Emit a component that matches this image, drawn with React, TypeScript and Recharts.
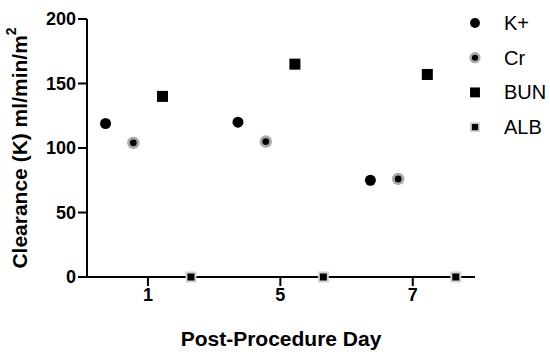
import { ScatterChart, Scatter, XAxis, YAxis } from 'recharts';

const days = ['1', '5', '7'];
const kPlus = [119, 120, 75];
const cr = [104, 105, 76];
const bun = [140, 165, 157];
const alb = [0, 0, 0];
const seriesNames = ['K+', 'Cr', 'BUN', 'ALB'];

// grouped spread of each series around its day tick
const offsets = [-0.32, -0.11, 0.11, 0.325];

const font = '"Liberation Sans", Arial, Helvetica, sans-serif';

const toPoints = (vals: number[], k: number) =>
  vals.map((y, i) => ({ x: i + 1 + offsets[k], y }));

type Mark = (cx: number, cy: number, s?: number) => JSX.Element;

const marks: Mark[] = [
  (cx, cy, s = 1) => <circle cx={cx} cy={cy} r={5.5 * s} fill="#000" />,
  (cx, cy, s = 1) => (
    <g>
      <circle cx={cx} cy={cy} r={6.2 * s} fill="#a9a9a9" />
      <circle cx={cx} cy={cy} r={3.4 * s} fill="#000" />
    </g>
  ),
  (cx, cy, s = 1) => (
    <rect x={cx - 5.5 * s} y={cy - 5.5 * s} width={11 * s} height={11 * s} fill="#000" />
  ),
  (cx, cy, s = 1) => (
    <g>
      <rect x={cx - 5.5 * s} y={cy - 5.5 * s} width={11 * s} height={11 * s} fill="#d2d2d2" />
      <rect x={cx - 3.5 * s} y={cy - 3.5 * s} width={7 * s} height={7 * s} fill="#000" />
    </g>
  ),
];

const series = [kPlus, cr, bun, alb];

export default function App() {
  return (
    <div style={{ position: 'absolute', left: 0, top: 0, width: 550, height: 355, background: '#fff' }}>
      <ScatterChart width={550} height={355} margin={{ top: 19, right: 75, left: 0, bottom: 28 }}>
        <XAxis
          type="number"
          dataKey="x"
          domain={[0.54, 3.47]}
          ticks={[1, 2, 3]}
          tickFormatter={(v: number) => days[v - 1]}
          height={50}
          tickSize={9}
          axisLine={{ stroke: '#000', strokeWidth: 2 }}
          tickLine={{ stroke: '#000', strokeWidth: 2 }}
          tick={{ fill: '#000', fontSize: 18, fontWeight: 'bold', fontFamily: font }}
          label={{
            content: ({ viewBox }: any) => (
              <text
                x={viewBox.x + viewBox.width / 2}
                y={viewBox.y + viewBox.height + 19}
                textAnchor="middle"
                fontSize={21}
                fontWeight="bold"
                fontFamily={font}
                fill="#000"
              >
                Post-Procedure Day
              </text>
            ),
          }}
        />
        <YAxis
          type="number"
          dataKey="y"
          domain={[0, 200]}
          ticks={[0, 50, 100, 150, 200]}
          width={87}
          tickSize={9}
          axisLine={{ stroke: '#000', strokeWidth: 2 }}
          tickLine={{ stroke: '#000', strokeWidth: 2 }}
          tick={{ fill: '#000', fontSize: 18, fontWeight: 'bold', fontFamily: font }}
          label={{
            content: ({ viewBox }: any) => {
              const cx = 19;
              const cy = viewBox.y + viewBox.height / 2;
              return (
                <text
                  x={cx}
                  y={cy}
                  transform={`rotate(-90, ${cx}, ${cy})`}
                  textAnchor="middle"
                  dominantBaseline="central"
                  fontSize={21}
                  fontWeight="bold"
                  fontFamily={font}
                  fill="#000"
                >
                  Clearance (K) ml/min/m
                  <tspan fontSize={14} dy={-8}>2</tspan>
                </text>
              );
            },
          }}
        />
        {series.map((vals, k) => (
          <Scatter
            key={seriesNames[k]}
            name={seriesNames[k]}
            data={toPoints(vals, k)}
            isAnimationActive={false}
            shape={(p: any) => marks[k](p.cx, p.cy)}
          />
        ))}
      </ScatterChart>
      <svg
        width={90}
        height={150}
        style={{ position: 'absolute', left: 460, top: 0 }}
      >
        {seriesNames.map((name, k) => (
          <g key={name}>
            {marks[k](15, 23 + k * 34.7, 0.9)}
            <text
              x={44}
              y={23 + k * 34.7}
              dominantBaseline="central"
              fontSize={20}
              fontFamily={font}
              fill="#000"
            >
              {name}
            </text>
          </g>
        ))}
      </svg>
    </div>
  );
}
